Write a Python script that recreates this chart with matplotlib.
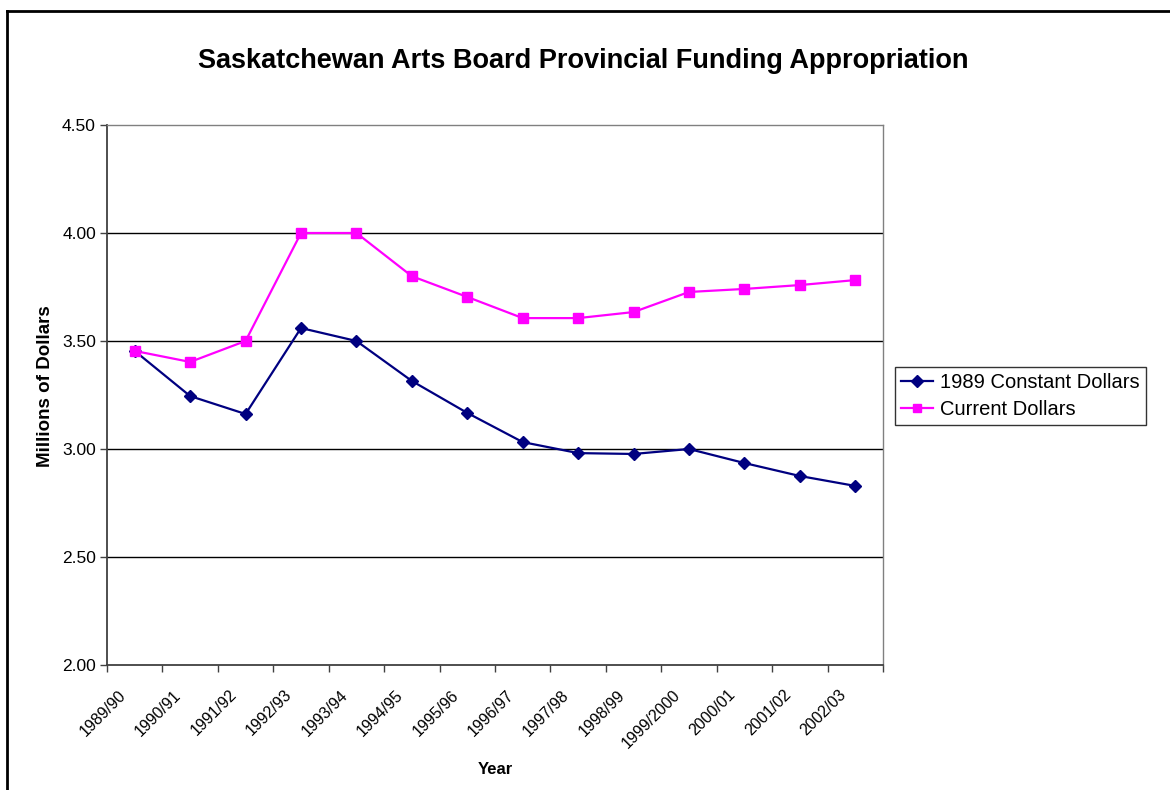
import matplotlib
matplotlib.use("Agg")
import matplotlib.pyplot as plt
from matplotlib.lines import Line2D
from matplotlib.transforms import ScaledTranslation
import numpy as np

years = ["1989/90", "1990/91", "1991/92", "1992/93", "1993/94", "1994/95", "1995/96",
         "1996/97", "1997/98", "1998/99", "1999/2000", "2000/01", "2001/02", "2002/03"]
constant_1989 = [3.454, 3.245, 3.162, 3.560, 3.500, 3.315, 3.167,
                 3.032, 2.981, 2.977, 3.000, 2.935, 2.875, 2.829]
current = [3.454, 3.403, 3.500, 4.000, 4.000, 3.800, 3.704,
           3.606, 3.606, 3.634, 3.727, 3.741, 3.759, 3.782]
y_ticks = [2.00, 2.50, 3.00, 3.50, 4.00, 4.50]

plt.rcParams['font.family'] = ['Liberation Sans', 'DejaVu Sans']

W, H = 1170, 790
fig = plt.figure(figsize=(W / 100, H / 100), dpi=100)
fig.patch.set_facecolor('white')

ax = fig.add_axes([107 / W, 1 - 665 / H, (883 - 107) / W, (665 - 125) / H])
x = np.arange(len(years))

ax.set_xlim(-0.5, len(years) - 0.5)
ax.set_ylim(y_ticks[0], y_ticks[-1])

for yv in y_ticks[1:-1]:
    ax.axhline(yv, color='black', lw=1.0, zorder=1)

l1, = ax.plot(x, constant_1989, color='#000080', lw=1.6, marker='D', markersize=6,
              markerfacecolor='#000080', markeredgecolor='#000080', zorder=3,
              label='1989 Constant Dollars')
l2, = ax.plot(x, current, color='#FF00FF', lw=1.6, marker='s', markersize=7,
              markerfacecolor='#FF00FF', markeredgecolor='#FF00FF', zorder=3,
              label='Current Dollars')

ax.set_yticks(y_ticks)
ax.set_yticklabels([f"{v:.2f}" for v in y_ticks], fontsize=12.5)
ax.tick_params(axis='y', direction='out', length=5, width=1, color='#404040', pad=3)

ax.set_xticks(x)
ax.set_xticklabels(years, rotation=45, ha='right', va='top', fontsize=11.5)
ax.tick_params(axis='x', which='major', length=0, pad=16)
shift = ScaledTranslation(-6 / 100, 0, fig.dpi_scale_trans)
for lab in ax.get_xticklabels():
    lab.set_transform(lab.get_transform() + shift)
ax.set_xticks(np.arange(-0.5, len(years), 1.0), minor=True)
ax.tick_params(axis='x', which='minor', direction='out', length=5, width=1, color='#404040')

for side in ['left', 'bottom']:
    ax.spines[side].set_color('#404040')
    ax.spines[side].set_linewidth(1.3)
for side in ['top', 'right']:
    ax.spines[side].set_color('#808080')
    ax.spines[side].set_linewidth(1.0)

fig.text(583 / W, 1 - 61 / H, 'Saskatchewan Arts Board Provincial Funding Appropriation',
         ha='center', va='center', fontsize=19.5, fontweight='bold')
fig.text(46 / W, 1 - 386 / H, 'Millions of Dollars', ha='center', va='center',
         rotation=90, fontsize=13.5, fontweight='bold')
fig.text(495 / W, 1 - 769 / H, 'Year', ha='center', va='center', fontsize=12, fontweight='bold')

leg = fig.legend(handles=[l1, l2], loc='upper left',
                 bbox_to_anchor=(895 / W, 1 - 367 / H), fontsize=14.5,
                 frameon=True, fancybox=False, shadow=False, borderpad=0.3,
                 handlelength=1.6, handletextpad=0.35, labelspacing=0.4, borderaxespad=0)
leg.get_frame().set_edgecolor('black')
leg.get_frame().set_linewidth(1.0)
for h in leg.legend_handles:
    h.set_markersize(6)

# outer chart border (top and left visible)
fig.add_artist(Line2D([7 / W, 1.0], [1 - 11 / H, 1 - 11 / H], color='black', lw=2.0,
                      transform=fig.transFigure))
fig.add_artist(Line2D([7 / W, 7 / W], [0, 1 - 11 / H], color='black', lw=2.0,
                      transform=fig.transFigure))

fig.savefig('out.png', dpi=100, facecolor='white')
